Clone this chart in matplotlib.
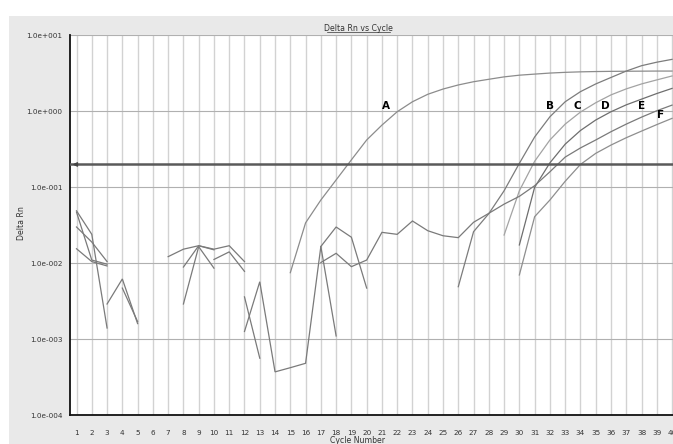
import numpy as np
import matplotlib
matplotlib.use("Agg")
import matplotlib.pyplot as plt
from matplotlib.patches import Rectangle
from matplotlib.lines import Line2D

# ---- amplification data (Delta Rn per cycle); each trace = (first cycle, values) ----
cycles = list(range(1, 41))
threshold = 0.2

curve_a = (15, [0.0075, 0.034, 0.068, 0.125, 0.23, 0.42, 0.66, 0.99, 1.34, 1.68, 1.97,
                2.23, 2.46, 2.65, 2.85, 3.0, 3.1, 3.2, 3.27, 3.32, 3.35, 3.37, 3.38,
                3.39, 3.4, 3.4])
curve_b = (26, [0.0049, 0.026, 0.045, 0.09, 0.207, 0.46, 0.85, 1.34, 1.82, 2.3, 2.8,
                3.4, 4.0, 4.45, 4.85])
curve_c = (29, [0.0235, 0.09, 0.22, 0.42, 0.68, 0.98, 1.3, 1.65, 1.98, 2.3, 2.6, 2.93])
curve_d = (30, [0.0174, 0.10, 0.21, 0.37, 0.56, 0.77, 0.99, 1.22, 1.45, 1.72, 2.01])
curve_e = (17, [0.0102, 0.0135, 0.009, 0.011, 0.0255, 0.024, 0.036, 0.0268, 0.023,
                0.0217, 0.0346, 0.0454, 0.06, 0.076, 0.105, 0.16, 0.25, 0.33, 0.42,
                0.54, 0.68, 0.84, 1.02, 1.21])
curve_f = (30, [0.007, 0.041, 0.068, 0.12, 0.2, 0.28, 0.36, 0.45, 0.55, 0.67, 0.81])

# baseline noise fragments (negative readings are not drawn on a log axis)
noise_1 = (1, [0.049, 0.024, 0.0014])
noise_2 = (1, [0.047, 0.011, 0.0097])
noise_3 = (1, [0.030, 0.019, 0.0105])
noise_4 = (1, [0.0155, 0.0105, 0.0092])
noise_5 = (3, [0.0029, 0.0062, 0.0016])
noise_6 = (4, [0.0047, 0.0017])
noise_7 = (7, [0.0122, 0.0153, 0.017, 0.0153, 0.017, 0.0105])
noise_8 = (8, [0.0089, 0.017, 0.0150])
noise_9 = (8, [0.0029, 0.0165, 0.0086])
noise_10 = (10, [0.0112, 0.0141, 0.0078])
noise_11 = (12, [0.0036, 0.00056])
noise_12 = (12, [0.00126, 0.0057, 0.00037, 0.00042, 0.00048, 0.0166, 0.030, 0.022, 0.0047])
noise_13 = (17, [0.0166, 0.0011])

curve_labels = ["A", "B", "C", "D", "E", "F"]
label_cycles = [21.27, 32.02, 33.77, 35.6, 38.03, 39.27]
label_values = [1.18, 1.18, 1.18, 1.18, 1.18, 0.89]

y_ticks = [1e1, 1e0, 1e-1, 1e-2, 1e-3, 1e-4]
y_tick_labels = ["1.0e+001", "1.0e+000", "1.0e-001", "1.0e-002", "1.0e-003", "1.0e-004"]

# ---- figure ----
W, H = 673, 444
fig = plt.figure(figsize=(W / 100, H / 100), dpi=100)
fig.patch.set_facecolor("white")
panel = Rectangle((9 / W, 0), 1 - 9 / W, 1 - 16 / H, transform=fig.transFigure,
                  facecolor="#e9e9e9", edgecolor="none", zorder=0)
fig.add_artist(panel)

ax_left, ax_right = 69.5, 679.7
ax_top, ax_bot = 35.5, 415.0
ax = fig.add_axes([ax_left / W, (H - ax_bot) / H, (ax_right - ax_left) / W,
                   (ax_bot - ax_top) / H])
ax.set_facecolor("white")
ax.set_yscale("log")
ax.set_xlim(0.54, 40.5)
ax.set_ylim(1e-4, 1e1)

# grid
for c in cycles:
    ax.axvline(c, color="#d2d2d2", lw=1.0, zorder=1)
for yv in y_ticks:
    ax.axhline(yv, color="#b0b0b0", lw=0.8, zorder=1)


def draw(trace, color, lw=0.9):
    start, vals = trace
    xs = np.arange(start, start + len(vals))
    ax.plot(xs, vals, color=color, lw=lw, zorder=3, solid_joinstyle="miter")


for tr in [noise_1, noise_2, noise_3, noise_4, noise_5, noise_6, noise_7, noise_8,
           noise_9, noise_10, noise_11, noise_12, noise_13]:
    draw(tr, "#7a7a7a")

draw(curve_a, "#8c8c8c")
draw(curve_b, "#7c7c7c")
draw(curve_c, "#a3a3a3")
draw(curve_d, "#6e6e6e")
draw(curve_e, "#7a7a7a")
draw(curve_f, "#8e8e8e")

# threshold line with left arrow
ax.axhline(threshold, color="#5a5a5a", lw=1.8, zorder=4)
ax.annotate("", xy=(0.56, threshold), xytext=(1.2, threshold),
            arrowprops=dict(arrowstyle="-|>", color="#444444", lw=1.0,
                            mutation_scale=6), zorder=5)

for lab, cx, cy in zip(curve_labels, label_cycles, label_values):
    ax.text(cx, cy, lab, fontsize=7.5, fontweight="bold", ha="center", va="center",
            color="black", zorder=6)

# axes styling
ax.set_yticks(y_ticks)
ax.set_yticklabels(y_tick_labels)
ax.yaxis.set_minor_locator(matplotlib.ticker.NullLocator())
ax.set_xticks(cycles)
ax.set_xticklabels([str(c) for c in cycles])
ax.tick_params(axis="both", length=0, labelsize=5.2, colors="#333333")
ax.tick_params(axis="y", pad=5)
ax.tick_params(axis="x", pad=11)
for side in ["left", "bottom"]:
    ax.spines[side].set_color("#111111")
    ax.spines[side].set_linewidth(1.3)
for side in ["top", "right"]:
    ax.spines[side].set_visible(False)

# titles
fig.text(358 / W, 1 - 28.7 / H, "Delta Rn vs Cycle", fontsize=5.6, ha="center",
         va="center", color="#333333")
fig.add_artist(Line2D([327 / W, 390 / W], [1 - 32.5 / H, 1 - 32.5 / H],
                      transform=fig.transFigure, color="#333333", lw=0.5))
fig.text(21.7 / W, 1 - 223 / H, "Delta Rn", fontsize=5.6, rotation=90, ha="center",
         va="center", color="#333333")
fig.text(358 / W, 1 - 440.5 / H, "Cycle Number", fontsize=5.6, ha="center",
         va="center", color="#333333")

fig.savefig("out.png", dpi=100, facecolor=fig.get_facecolor())
